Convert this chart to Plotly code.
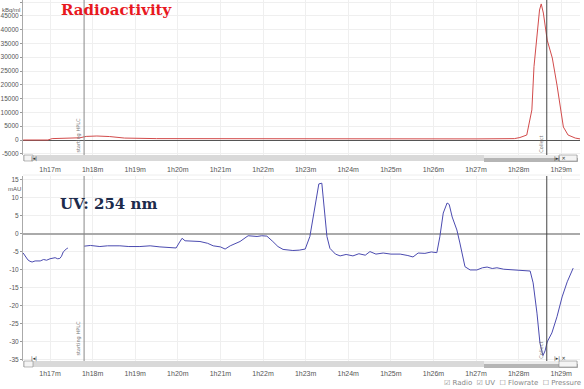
import plotly.graph_objects as go

# ---------------- data ----------------
radio_t = [76.37, 76.95, 77.05, 77.4, 77.7, 77.85, 78.1, 78.4, 78.75, 79.5, 81.0, 83.0, 85.0, 87.0,
           87.9, 88.03, 88.19, 88.31, 88.36, 88.43, 88.49, 88.53, 88.58, 88.67, 88.79, 88.90,
           88.98, 89.05, 89.16, 89.33, 89.44]
radio_v = [0, 0, 500, 650, 800, 1300, 1450, 1250, 700, 500, 450, 400, 350, 400,
           500, 900, 1800, 10900, 26600, 38800, 47100, 49300, 46000, 36200, 29700, 19900,
           12000, 4700, 1800, 700, 400]

uv_t = [76.37, 76.43, 76.48, 76.53, 76.58, 76.65, 76.77, 76.85, 76.92, 77.0, 77.06, 77.12, 77.18,
        77.23, 77.27, 77.31, 77.38, 77.42,
        None,
        77.80, 77.95, 78.17, 78.35, 78.64, 78.85, 79.11, 79.35, 79.58, 79.82, 79.96, 80.03, 80.10,
        80.17, 80.33, 80.52, 80.7, 80.83, 81.0, 81.11, 81.23, 81.46, 81.65, 81.75, 81.86, 81.97,
        82.09, 82.23, 82.35, 82.47, 82.70, 82.85, 82.99, 83.10, 83.22, 83.31, 83.38, 83.43, 83.50,
        83.57, 83.70, 83.81, 83.95, 84.11, 84.25, 84.40, 84.51, 84.65, 84.82, 85.0, 85.22, 85.40,
        85.52, 85.64, 85.80, 85.95, 86.08, 86.15, 86.23, 86.32, 86.37, 86.44, 86.55, 86.62, 86.74,
        86.86, 87.02, 87.15, 87.26, 87.38, 87.49, 87.65, 87.87, 88.05, 88.27, 88.34, 88.43, 88.50,
        88.57, 88.62, 88.67, 88.78, 88.90, 89.02, 89.14, 89.28]
uv_v = [-5.3, -6.4, -7.2, -7.6, -7.8, -7.5, -7.5, -7.1, -7.3, -6.9, -6.7, -6.6, -6.9,
        -6.8, -6.2, -5.0, -4.2, -3.9,
        None,
        -3.4, -3.2, -3.5, -3.3, -3.3, -3.5, -3.5, -3.3, -3.6, -3.8, -3.9, -2.5, -1.2,
        -1.9, -2.0, -2.1, -2.6, -3.3, -3.6, -4.2, -3.3, -2.1, -0.5, -0.6, -0.7, -0.5,
        -0.6, -2.1, -3.5, -4.3, -4.6, -4.5, -4.2, -0.7, 7.6, 13.9, 14.1, 8.5, -0.7,
        -4.0, -5.6, -6.1, -5.7, -6.1, -5.5, -5.9, -4.9, -5.6, -5.3, -5.6, -5.6, -6.0,
        -6.4, -5.3, -5.4, -5.0, -5.2, -0.8, 5.8, 8.6, 8.2, 4.7, 1.1, -2.5, -9.1,
        -10.0, -10.0, -9.4, -9.2, -9.6, -9.4, -9.8, -10.0, -10.0, -10.3, -13.6, -22.0, -30.3,
        -33.8, -32.5, -30.0, -27.5, -23.0, -17.5, -13.3, -9.5]

x_ticks = [77, 78, 79, 80, 81, 82, 83, 84, 85, 86, 87, 88, 89]
x_labels = ["1h17m", "1h18m", "1h19m", "1h20m", "1h21m", "1h22m", "1h23m", "1h24m",
            "1h25m", "1h26m", "1h27m", "1h28m", "1h29m"]
radio_ticks = [-5000, 0, 5000, 10000, 15000, 20000, 25000, 30000, 35000, 40000, 45000, 50000]
radio_labels = ["-5000", "0", "5000", "10000", "15000", "20000", "25000", "30000", "35000",
                "40000", "45000", "50000"]
uv_ticks = [-35, -30, -25, -20, -15, -10, -5, 0, 5, 10, 15]
uv_labels = ["-35", "-30", "-25", "-20", "-15", "-10", "-5", "0", "5", "10", "15"]
marker_times = [77.80, 88.66]
marker_labels = ["starting HPLC", "Collect"]

# ---------------- layout helpers ----------------
W, H = 584, 389
L, R, T, B = 23, 4, 0, 28
PW, PH = W - L - R, H - T - B


def px(x):
    return (x - L) / PW


def py(y):
    return (H - B - y) / PH


XR = [76.366, 89.44]
fig = go.Figure()
fig.add_trace(go.Scatter(x=radio_t, y=radio_v, mode="lines", line=dict(color="#d24b4b", width=1),
                         xaxis="x", yaxis="y", showlegend=False))
fig.add_trace(go.Scatter(x=uv_t, y=uv_v, mode="lines", line=dict(color="#4b4bb0", width=1),
                         xaxis="x2", yaxis="y2", showlegend=False, connectgaps=False))

xfont = dict(family="Liberation Sans", size=7, color="#555")
yfont = dict(family="Liberation Sans", size=6.5, color="#555")
xcommon = dict(range=XR, tickvals=x_ticks, ticktext=x_labels, showgrid=True, gridcolor="#efefef",
               zeroline=False, tickfont=xfont, ticks="outside", tickcolor="rgba(0,0,0,0)",
               showline=False, automargin=False)
ycommon = dict(showgrid=True, gridcolor="#efefef", tickfont=yfont, ticks="outside", ticklen=2,
               tickcolor="#999", showline=True, linecolor="#aaa", linewidth=1, zeroline=True,
               automargin=False)

fig.update_layout(
    width=W, height=H, margin=dict(l=L, r=R, t=T, b=B),
    paper_bgcolor="white", plot_bgcolor="white",
    xaxis=dict(domain=[0, 1], anchor="y", ticklen=8, **xcommon),
    yaxis=dict(domain=[py(155), 1], range=[-5435, 50725], tickvals=radio_ticks,
               ticktext=radio_labels, zerolinecolor="#555", zerolinewidth=1, **ycommon),
    xaxis2=dict(domain=[0, 1], anchor="y2", ticklen=6, **xcommon),
    yaxis2=dict(domain=[0, py(176)], range=[-35.3, 16.1], tickvals=uv_ticks, ticktext=uv_labels,
                zerolinecolor="#aaa", zerolinewidth=1.5, **ycommon),
)

shapes = []
# vertical markers
for t, col in zip(marker_times, ["#888", "#444"]):
    for xr, yr in [("x", "y domain"), ("x2", "y2 domain")]:
        shapes.append(dict(type="line", xref=xr, yref=yr, x0=t, x1=t, y0=0, y1=1,
                           line=dict(color=col, width=1)))
# scrollbars
for top in [155, 361]:
    shapes.append(dict(type="rect", xref="paper", yref="paper", x0=px(23), x1=px(484),
                       y0=py(top + 6), y1=py(top), fillcolor="#d9d9d9", line=dict(width=0)))
    shapes.append(dict(type="rect", xref="paper", yref="paper", x0=px(484), x1=px(578),
                       y0=py(top + 3), y1=py(top), fillcolor="#ececec", line=dict(width=0)))
    shapes.append(dict(type="rect", xref="paper", yref="paper", x0=px(484), x1=px(578),
                       y0=py(top + 7), y1=py(top + 3), fillcolor="#b5b5b5", line=dict(width=0)))
    shapes.append(dict(type="rect", xref="paper", yref="paper", x0=px(24), x1=px(33),
                       y0=py(top + 6), y1=py(top), fillcolor="#f4f4f4",
                       line=dict(width=0.5, color="#777")))
    shapes.append(dict(type="rect", xref="paper", yref="paper", x0=px(559), x1=px(577),
                       y0=py(top + 6), y1=py(top), fillcolor="#f4f4f4",
                       line=dict(width=0.5, color="#777")))
# thin separator line at top of lower panel
shapes.append(dict(type="line", xref="paper", yref="paper", x0=0, x1=1, y0=py(175), y1=py(175),
                   line=dict(color="#eeeeee", width=1)))
fig.update_layout(shapes=shapes)

ann = []
ann.append(dict(text="Radioactivity", x=px(59), y=py(-1), xref="paper", yref="paper",
                xanchor="left", yanchor="top", showarrow=False,
                font=dict(family="DejaVu Serif", size=15, color="#e8191f", weight="bold")))
ann.append(dict(text="UV: 254 nm", x=px(58), y=py(193), xref="paper", yref="paper",
                xanchor="left", yanchor="top", showarrow=False,
                font=dict(family="DejaVu Serif", size=15, color="#1c2b4b", weight="bold")))
ann.append(dict(text="kBq/ml", x=px(0), y=py(10), xref="paper", yref="paper", xanchor="left",
                yanchor="middle", showarrow=False, font=dict(family="Liberation Sans", size=6, color="#555")))
ann.append(dict(text="mAU", x=px(6), y=py(189), xref="paper", yref="paper", xanchor="left",
                yanchor="middle", showarrow=False, font=dict(family="Liberation Sans", size=6, color="#555")))
# rotated marker labels
for t, lab, ys in zip(marker_times, marker_labels, [(135, 338), (144, 350)]):
    ann.append(dict(text=lab, x=t, xref="x", y=py(ys[0]), yref="paper", xanchor="right",
                    yanchor="middle", textangle=-90, showarrow=False, xshift=-1,
                    font=dict(family="DejaVu Sans", size=5, color="#777")))
    ann.append(dict(text=lab, x=t, xref="x2", y=py(ys[1]), yref="paper", xanchor="right",
                    yanchor="middle", textangle=-90, showarrow=False, xshift=-1,
                    font=dict(family="DejaVu Sans", size=5, color="#777")))
# scrollbar buttons
for top in [155, 361]:
    ann.append(dict(text="|◂|", x=px(28.5), y=py(top + 3), xref="paper", yref="paper",
                    showarrow=False, font=dict(family="DejaVu Sans", size=5, color="#333")))
    ann.append(dict(text="|▸| ✕", x=px(568), y=py(top + 3), xref="paper", yref="paper",
                    showarrow=False, font=dict(family="DejaVu Sans", size=5, color="#333")))
# legend text
ann.append(dict(text="☑ Radio  ☑ UV  ☐ Flowrate  ☐ Pressure", x=px(583), y=py(383),
                xref="paper", yref="paper", xanchor="right", yanchor="middle", showarrow=False,
                font=dict(family="DejaVu Sans", size=7, color="#888")))
fig.update_layout(annotations=ann)

fig.write_html("out.html", config={"displayModeBar": False},
               post_script="document.body.style.margin='0px';")
